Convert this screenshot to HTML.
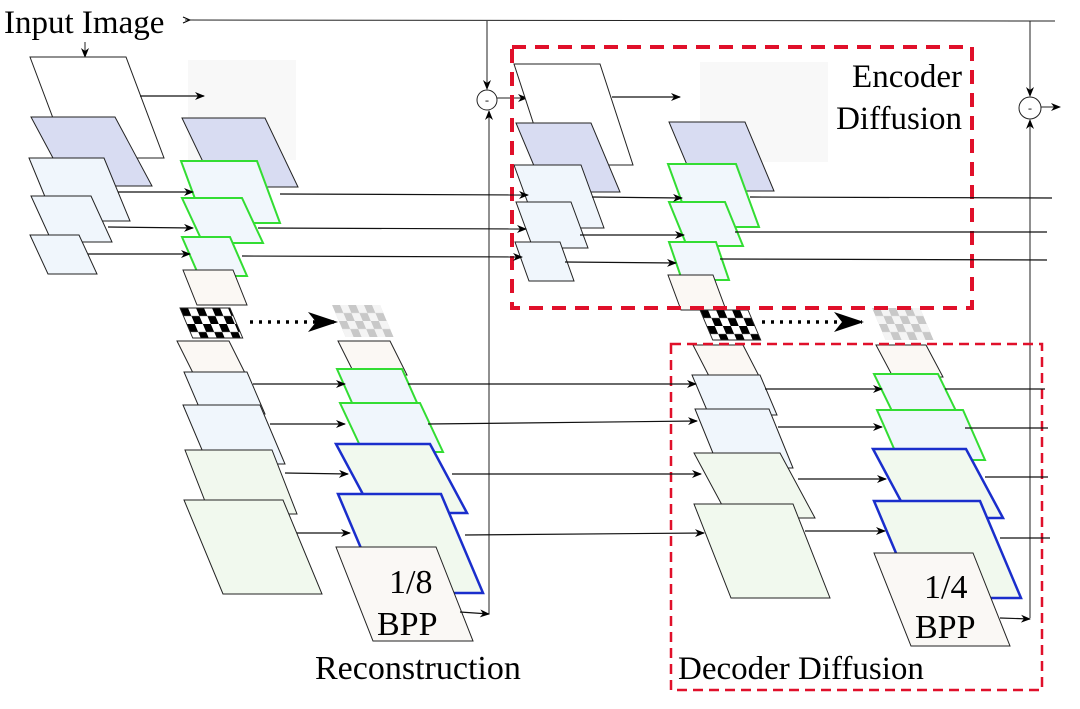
<!DOCTYPE html>
<html><head><meta charset="utf-8"><style>
html,body{margin:0;padding:0;background:#fff;}
svg{display:block;font-family:"Liberation Serif",serif;}
</style></head><body>
<svg width="1080" height="709" viewBox="0 0 1080 709" xmlns="http://www.w3.org/2000/svg">
<defs>
<marker id="a" markerWidth="10" markerHeight="8" refX="9" refY="4" orient="auto" markerUnits="userSpaceOnUse">
<path d="M0,0 L10,4 L0,8 L3,4 Z" fill="#000"/></marker>
<marker id="big" markerWidth="30" markerHeight="20" refX="28" refY="10" orient="auto" markerUnits="userSpaceOnUse">
<path d="M0,0 L30,10 L0,20 L8,10 Z" fill="#000"/></marker>
<pattern id="chk" width="16" height="16" patternUnits="userSpaceOnUse">
<rect width="16" height="16" fill="#fff"/><rect width="8" height="8" fill="#000"/><rect x="8" y="8" width="8" height="8" fill="#000"/></pattern>
<pattern id="chkg" width="16" height="16" patternUnits="userSpaceOnUse">
<rect width="16" height="16" fill="#f4f4f4"/><rect width="8" height="8" fill="#c8c8c8"/><rect x="8" y="8" width="8" height="8" fill="#c8c8c8"/></pattern>
</defs>
<g stroke="#222" stroke-width="1" fill="none">
<line x1="185" y1="20" x2="1055" y2="21"/>
<path d="M183,17 L190,20 L183,23" stroke="#000"/>
<line x1="85" y1="42" x2="85" y2="57" marker-end="url(#a)"/>
<line x1="487" y1="21" x2="487" y2="89" marker-end="url(#a)"/>
<line x1="1030" y1="21" x2="1030" y2="96" marker-end="url(#a)"/>
<circle cx="487" cy="100" r="10" fill="#fff"/>
<circle cx="1030" cy="108" r="11" fill="#fff"/>
<line x1="497" y1="98" x2="527" y2="98" marker-end="url(#a)"/>
<line x1="1041" y1="107" x2="1060" y2="107" marker-end="url(#a)"/>
<line x1="489" y1="614" x2="489" y2="111" marker-end="url(#a)"/>
<line x1="1030" y1="618" x2="1030" y2="120" marker-end="url(#a)"/>
</g>
<text x="487" y="104" font-size="12" text-anchor="middle">-</text>
<text x="1030" y="112" font-size="12" text-anchor="middle">-</text>
<text x="4" y="33" font-size="33">Input Image</text>

<rect x="188" y="60" width="108" height="100" fill="#f8f8f8"/>
<rect x="700" y="62" width="128" height="100" fill="#f8f8f8"/>

<g stroke="#222" stroke-width="1">
<polygon points="30,57 126,57 164,158 68,158" fill="#fff"/>
<polygon points="31,117 115,117 152,186 68,186" fill="#d8dcf2"/>
<polygon points="29,158 104,158 130,221 55,221" fill="#f0f6fc"/>
<polygon points="31,196 91,196 112,242 52,242" fill="#f0f6fc"/>
<polygon points="30,235 79,235 97,274 48,274" fill="#f0f6fc"/>
<polygon points="182,118 265,118 298,187 215,187" fill="#d8dcf2"/>
<polygon points="181,161 257,161 280,223 204,223" fill="#f1f7fc" stroke="#33dd33" stroke-width="2"/>
<polygon points="182,198 242,198 263,243 203,243" fill="#f1f7fc" stroke="#33dd33" stroke-width="2"/>
<polygon points="182,237 230,237 247,276 199,276" fill="#f1f7fc" stroke="#33dd33" stroke-width="2"/>
<polygon points="183,270 233,270 247,305 197,305" fill="#fbf8f4"/>
</g>
<g transform="translate(180,308) skewX(23)"><rect width="50" height="30" fill="url(#chk)" stroke="#222"/></g>
<g transform="translate(332,305) skewX(23)"><rect width="48" height="32" fill="url(#chkg)"/></g>
<line x1="250" y1="322" x2="336" y2="322" stroke="#000" stroke-width="3.5" stroke-dasharray="3,6" marker-end="url(#big)"/>
<g transform="translate(700,310) skewX(23)"><rect width="48" height="30" fill="url(#chk)" stroke="#222"/></g>
<g transform="translate(872,308) skewX(23)"><rect width="48" height="32" fill="url(#chkg)"/></g>
<line x1="762" y1="322" x2="862" y2="322" stroke="#000" stroke-width="3.5" stroke-dasharray="3,6" marker-end="url(#big)"/>

<g stroke="#222" stroke-width="1">
<polygon points="177,341 229,341 246,375 194,375" fill="#fbf8f4"/>
<polygon points="184,372 247,372 265,414 202,414" fill="#f0f6fc"/>
<polygon points="183,405 260,405 285,464 208,464" fill="#f0f6fc"/>
<polygon points="185,450 272,450 297,514 210,514" fill="#f1f8ee"/>
<polygon points="184,500 283,500 322,594 223,594" fill="#f1f9ee"/>
<polygon points="338,341 390,341 407,375 355,375" fill="#fbf8f4"/>
<polygon points="337,369 402,369 418,405 353,405" fill="#f0f6fc" stroke="#33dd33" stroke-width="2"/>
<polygon points="340,403 420,403 443,452 363,452" fill="#f0f6fc" stroke="#33dd33" stroke-width="2"/>
<polygon points="336,444 430,444 467,513 373,513" fill="#f1f9ee" stroke="#1a2ecc" stroke-width="2.5"/>
<polygon points="338,494 441,494 483,593 380,593" fill="#f1f9ee" stroke="#1a2ecc" stroke-width="2.5"/>
<polygon points="336,547 436,547 473,641 373,641" fill="#faf8f5"/>
</g>
<text x="389" y="593" font-size="34">1/8</text>
<text x="377" y="635" font-size="34">BPP</text>
<text x="315" y="679" font-size="34">Reconstruction</text>

<g stroke="#222" stroke-width="1">
<polygon points="514,64 600,64 633,165 547,165" fill="#fff"/>
<polygon points="516,123 591,123 620,192 545,192" fill="#d8dcf2"/>
<polygon points="514,165 581,165 604,228 537,228" fill="#f0f6fc"/>
<polygon points="516,202 571,202 588,248 533,248" fill="#f0f6fc"/>
<polygon points="515,242 560,242 574,281 529,281" fill="#f0f6fc"/>
<polygon points="669,122 745,122 774,191 698,191" fill="#d8dcf2"/>
<polygon points="668,164 736,164 759,227 691,227" fill="#f1f7fc" stroke="#33dd33" stroke-width="2"/>
<polygon points="669,202 725,202 743,246 687,246" fill="#f1f7fc" stroke="#33dd33" stroke-width="2"/>
<polygon points="669,242 716,242 729,280 682,280" fill="#f1f7fc" stroke="#33dd33" stroke-width="2"/>
<polygon points="668,275 713,275 726,310 681,310" fill="#fbf8f4"/>
</g>
<rect x="512" y="47" width="460" height="261" fill="none" stroke="#e0102a" stroke-width="4" stroke-dasharray="14,9"/>
<text x="962" y="87" font-size="33" text-anchor="end">Encoder</text>
<text x="962" y="129" font-size="33" text-anchor="end">Diffusion</text>

<g stroke="#222" stroke-width="1">
<polygon points="693,345 743,345 760,378 710,378" fill="#fbf8f4"/>
<polygon points="692,375 760,375 777,415 709,415" fill="#f0f6fc"/>
<polygon points="695,409 769,409 793,468 719,468" fill="#f0f6fc"/>
<polygon points="694,453 780,453 815,518 729,518" fill="#f1f8ee"/>
<polygon points="694,504 793,504 830,598 731,598" fill="#f1f9ee"/>
<polygon points="876,345 926,345 943,377 893,377" fill="#fbf8f4"/>
<polygon points="874,374 938,374 956,411 892,411" fill="#f0f6fc" stroke="#33dd33" stroke-width="2"/>
<polygon points="877,410 963,410 985,460 899,460" fill="#f0f6fc" stroke="#33dd33" stroke-width="2"/>
<polygon points="873,449 966,449 1003,518 910,518" fill="#f1f9ee" stroke="#1a2ecc" stroke-width="2.5"/>
<polygon points="874,501 980,501 1021,598 915,598" fill="#f1f9ee" stroke="#1a2ecc" stroke-width="2.5"/>
<polygon points="874,553 973,553 1010,646 911,646" fill="#faf8f5"/>
</g>
<text x="924" y="598" font-size="34">1/4</text>
<text x="915" y="638" font-size="34">BPP</text>
<rect x="671" y="344" width="371" height="346" fill="none" stroke="#e0102a" stroke-width="2.5" stroke-dasharray="10,6"/>
<text x="678" y="679" font-size="33">Decoder Diffusion</text>

<g stroke="#111" stroke-width="1.2" fill="none">
<line x1="140" y1="96" x2="204" y2="96" marker-end="url(#a)"/>
<line x1="118" y1="192" x2="193" y2="192" marker-end="url(#a)"/>
<line x1="108" y1="227" x2="193" y2="228" marker-end="url(#a)"/>
<line x1="88" y1="254" x2="190" y2="254" marker-end="url(#a)"/>
<line x1="280" y1="194" x2="528" y2="195" marker-end="url(#a)"/>
<line x1="258" y1="228" x2="526" y2="229" marker-end="url(#a)"/>
<line x1="242" y1="256" x2="522" y2="257" marker-end="url(#a)"/>
<line x1="612" y1="97" x2="680" y2="97" marker-end="url(#a)"/>
<line x1="592" y1="197" x2="682" y2="198" marker-end="url(#a)"/>
<line x1="580" y1="235" x2="684" y2="235" marker-end="url(#a)"/>
<line x1="565" y1="262" x2="676" y2="263" marker-end="url(#a)"/>
<line x1="750" y1="197" x2="1052" y2="198"/>
<line x1="735" y1="232" x2="1047" y2="232"/>
<line x1="720" y1="259" x2="1047" y2="260"/>
<line x1="253" y1="384" x2="345" y2="384" marker-end="url(#a)"/>
<line x1="270" y1="424" x2="345" y2="424" marker-end="url(#a)"/>
<line x1="285" y1="473" x2="348" y2="474" marker-end="url(#a)"/>
<line x1="297" y1="533" x2="350" y2="533" marker-end="url(#a)"/>
<line x1="408" y1="384" x2="696" y2="384" marker-end="url(#a)"/>
<line x1="428" y1="424" x2="697" y2="421" marker-end="url(#a)"/>
<line x1="452" y1="474" x2="701" y2="474" marker-end="url(#a)"/>
<line x1="465" y1="535" x2="704" y2="533" marker-end="url(#a)"/>
<line x1="765" y1="389" x2="882" y2="389" marker-end="url(#a)"/>
<line x1="778" y1="427" x2="882" y2="427" marker-end="url(#a)"/>
<line x1="798" y1="479" x2="886" y2="479" marker-end="url(#a)"/>
<line x1="805" y1="531" x2="885" y2="531" marker-end="url(#a)"/>
<line x1="945" y1="389" x2="1045" y2="389"/>
<line x1="965" y1="428" x2="1048" y2="428"/>
<line x1="985" y1="477" x2="1048" y2="477"/>
<line x1="1000" y1="538" x2="1050" y2="538"/>
<line x1="460" y1="612" x2="489" y2="614" marker-end="url(#a)"/>
<line x1="1000" y1="618" x2="1030" y2="619" marker-end="url(#a)"/>
</g>
</svg>
</body></html>
